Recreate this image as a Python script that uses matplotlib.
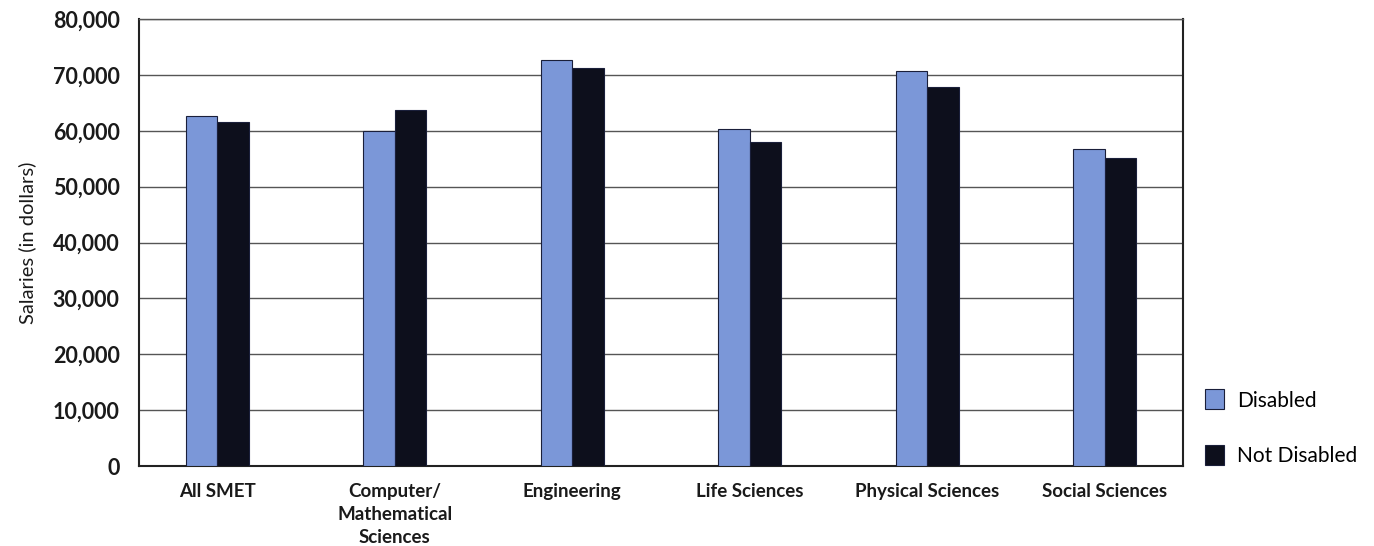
import matplotlib.pyplot as plt
import numpy as np
from matplotlib.patches import Patch
from matplotlib.ticker import FuncFormatter

categories = ["All SMET", "Computer/\nMathematical\nSciences", "Engineering",
              "Life Sciences", "Physical Sciences", "Social Sciences"]
disabled = [62600, 60000, 72700, 60300, 70700, 56700]
not_disabled = [61600, 63800, 71300, 58000, 67900, 55200]
series_labels = ["Disabled", "Not Disabled"]

BLUE = "#7b97d8"
DARK = "#0d0f1c"
EDGE = "#1a1f3a"

plt.rcParams["font.family"] = ["Lato", "DejaVu Sans"]

fig = plt.figure(figsize=(13.74, 5.46), dpi=100)
ax = fig.add_axes([0.1012, 0.1465, 0.7598, 0.8185])

x = np.arange(len(categories))
w = 0.177
ax.bar(x - w / 2, disabled, w, color=BLUE, edgecolor=EDGE, lw=0.8, zorder=3)
ax.bar(x + w / 2, not_disabled, w, color=DARK, edgecolor=EDGE, lw=0.8, zorder=3)

ax.set_xlim(-0.44, len(categories) - 1 + 0.44)
ax.set_ylim(0, 80000)
ax.set_yticks(np.arange(0, 80001, 10000))
ax.yaxis.set_major_formatter(FuncFormatter(lambda v, p: f"{int(v):,}"))
ax.grid(axis="y", color="#555555", lw=1.0, zorder=0)
ax.set_axisbelow(True)

ax.set_xticks(x)
ax.set_xticklabels(categories, fontsize=13.5, fontweight="bold", color="#1a1a1a",
                   linespacing=1.45)
ax.tick_params(axis="x", length=0, pad=12)
ax.tick_params(axis="y", length=0, pad=14, labelsize=15.5, labelcolor="#1a1a1a")
for t in ax.get_yticklabels():
    t.set_fontweight("bold")

for s in ["left", "bottom", "right"]:
    ax.spines[s].set_color("#222222")
    ax.spines[s].set_linewidth(1.5)
ax.spines["top"].set_color("#555555")
ax.spines["top"].set_linewidth(1.0)

ax.set_ylabel("Salaries (in dollars)", fontsize=14.5, color="#1a1a1a")
ax.yaxis.set_label_coords(-0.099, 0.5)

handles = [Patch(facecolor=BLUE, edgecolor=EDGE, lw=0.8),
           Patch(facecolor=DARK, edgecolor=EDGE, lw=0.8)]
fig.legend(handles, series_labels, loc="upper left",
           bbox_to_anchor=(0.863, 0.321), frameon=False, fontsize=15,
           labelspacing=1.65, handlelength=0.95, handleheight=1.1,
           handletextpad=0.6)

fig.savefig("out.png", dpi=100)
